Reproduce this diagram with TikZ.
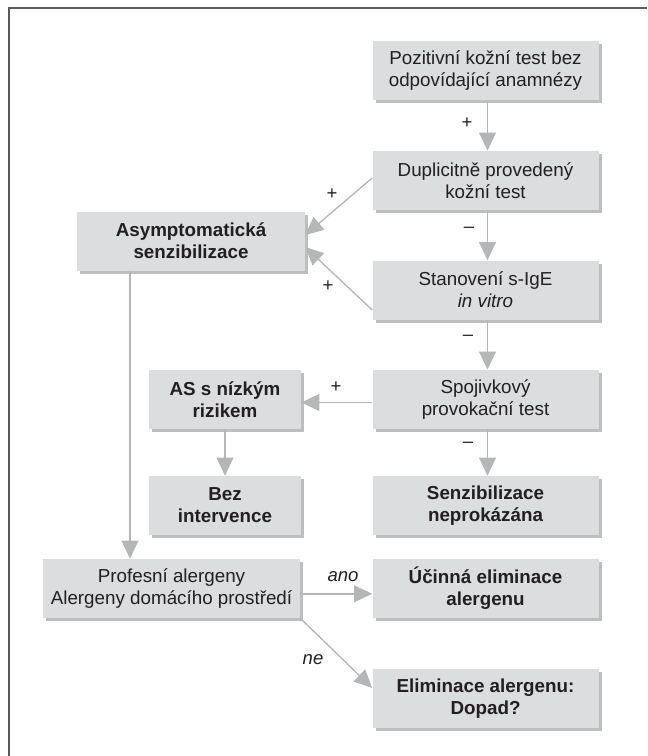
\documentclass[tikz,border=0pt]{standalone}
\usepackage{fontspec}
\setmainfont{Liberation Sans}
\usetikzlibrary{arrows.meta,shadows}
\definecolor{boxfill}{HTML}{DCDDDF}
\definecolor{shadowc}{HTML}{BDBEC0}
\definecolor{arrowc}{HTML}{B5B6B8}
\definecolor{framec}{HTML}{5A5A5A}
\definecolor{textc}{HTML}{231F20}
\begin{document}
\begin{tikzpicture}[x=0.75pt,y=-0.75pt,
 box/.style={fill=boxfill, draw=none, text=textc, align=center, inner sep=0pt,
   minimum height=44.25pt, font=\fontsize{14.1}{16.5}\selectfont,
   drop shadow={shadow xshift=2.25pt, shadow yshift=-2.25pt, fill=shadowc, opacity=1}},
 rbox/.style={box, minimum width=169.5pt},
 bbox/.style={font=\fontsize{14.1}{16.5}\selectfont\bfseries},
 arr/.style={draw=arrowc, line width=1pt, -{Triangle[length=13.5pt,width=12.5pt,fill=arrowc]}},
 lbl/.style={text=textc, font=\fontsize{13.9}{16.5}\selectfont, inner sep=0pt}
]
\useasboundingbox (0,0) rectangle (647,756);
\draw[framec, line width=1.6pt] (9,756) -- (9,8) -- (647,8);

\node[rbox] (b1) at (485.5,71) {Pozitivní kožní test bez\\odpovídající anamnézy};
\node[rbox] (b2) at (485.5,180.5) {Duplicitně provedený\\kožní test};
\node[rbox] (b3) at (485.5,290) {Stanovení s-IgE\\\textit{in vitro}};
\node[rbox] (b4) at (485.5,399.5) {Spojivkový\\provokační test};
\node[rbox,bbox] (senz) at (485.5,505.5) {Senzibilizace\\neprokázána};
\node[rbox,bbox] (uc) at (485.5,588.5) {Účinná eliminace\\alergenu};
\node[rbox,bbox] (elim) at (485.5,698.5) {Eliminace alergenu:\\Dopad?};
\node[box,bbox,minimum width=171pt] (asym) at (191,241) {Asymptomatická\\senzibilizace};
\node[box,bbox,minimum width=114pt] (as) at (225,399.5) {AS s nízkým\\rizikem};
\node[box,bbox,minimum width=114pt] (bez) at (225,505.5) {Bez\\intervence};
\node[box,minimum width=192.75pt] (prof) at (171.5,588.5) {Profesní alergeny\\Alergeny domácího prostředí};

\draw[arr] ([xshift=1.5pt]b1.south) -- ([xshift=1.5pt]b2.north);
\draw[arr] ([xshift=1.5pt]b2.south) -- ([xshift=1.5pt]b3.north);
\draw[arr] ([xshift=1.5pt]b3.south) -- ([xshift=1.5pt]b4.north);
\draw[arr] ([xshift=1.5pt]b4.south) -- ([xshift=1.5pt]senz.north);
\draw[arr] ([yshift=1.9pt]b2.west) -- ([yshift=4.5pt]asym.east);
\draw[arr] ([yshift=-15pt]b3.west) -- ([yshift=-4.5pt]asym.east);
\draw[arr] ([yshift=-2.25pt]b4.west) -- ([yshift=-2.25pt]as.east);
\draw[arr] (as) -- (bez);
\coordinate (vx) at (130,0);
\draw[arr] (asym.south -| vx) -- (prof.north -| vx);
\draw[arr] ([yshift=-4pt]prof.east) -- ([yshift=-4pt]uc.west);
\draw[arr] (prof.south east) -- ([yshift=7.9pt]elim.west);

\node[lbl] (l1) at (467,123) {+};
\node[lbl] (l2) at (332,194) {+};
\node[lbl] (l3) at (469,230) {–};
\node[lbl] (l4) at (328,286) {+};
\node[lbl] (l5) at (468,338) {–};
\node[lbl] (l6) at (336,387) {+};
\node[lbl] (l7) at (468,445) {–};
\node[lbl] (l8) at (343,577) {\itshape ano};
\node[lbl] (l9) at (313,660) {\itshape ne};
\end{tikzpicture}
\end{document}
